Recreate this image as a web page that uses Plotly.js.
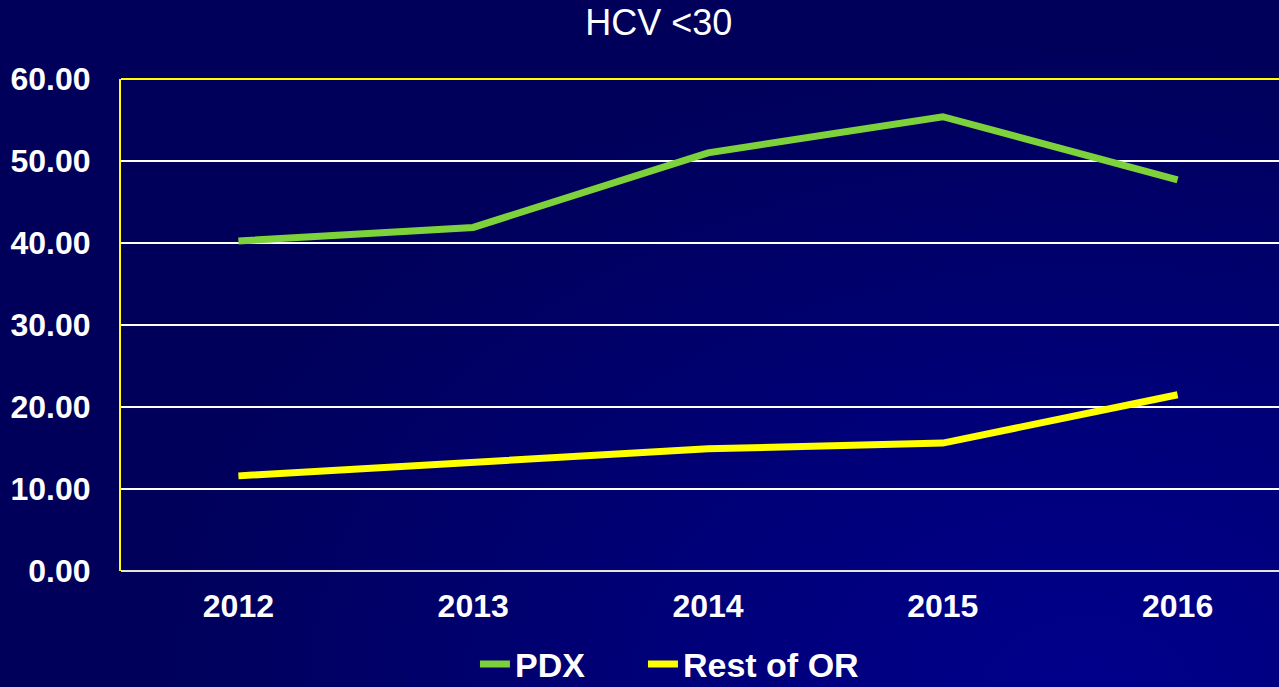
<!DOCTYPE html>
<html>
<head>
<meta charset="utf-8">
<script src="https://cdn.plot.ly/plotly-3.0.1.min.js"></script>
<style>
  html, body { margin: 0; padding: 0; width: 1279px; height: 687px; overflow: hidden; }
  body { background: radial-gradient(ellipse 75% 95% at 85% 100%, #00008c 0%, #000078 45%, #00005a 100%); }
  #chart { width: 1300px; height: 687px; }
</style>
</head>
<body>
<div id="chart"></div>
<script>
const years = ["2012", "2013", "2014", "2015", "2016"];
const pdx = [40.25, 41.9, 51.0, 55.4, 47.7];
const restOfOR = [11.6, 13.3, 14.9, 15.6, 21.5];
const yTicks = [0, 10, 20, 30, 40, 50, 60];
const yTickLabels = ["0.00", "10.00", "20.00", "30.00", "40.00", "50.00", "60.00"];

const FONT = "Liberation Sans, Arial, sans-serif";

const traces = [
  { x: years, y: pdx, name: "PDX", type: "scatter", mode: "lines", legend: "legend",
    line: { color: "#7dd13a", width: 7 } },
  { x: years, y: restOfOR, name: "Rest of OR", type: "scatter", mode: "lines", legend: "legend2",
    line: { color: "#ffff00", width: 7 } }
];

const legendFont = { family: FONT, size: 34, color: "#ffffff", weight: "bold" };

const layout = {
  width: 1300, height: 687,
  margin: { l: 121, r: 5, t: 79, b: 116, autoexpand: false },
  paper_bgcolor: "rgba(0,0,0,0)",
  plot_bgcolor: "rgba(0,0,0,0)",
  title: { text: "HCV <30", font: { family: FONT, size: 36, color: "#ffffff" },
           x: 0.458, xanchor: "center", xref: "paper", y: 0.968, yanchor: "middle", yref: "container" },
  showlegend: true,
  legend: { orientation: "h", x: 0.3015, xanchor: "left", y: -0.19, yanchor: "middle",
            font: legendFont, bgcolor: "rgba(0,0,0,0)", itemwidth: 30 },
  legend2: { orientation: "h", x: 0.4446, xanchor: "left", y: -0.19, yanchor: "middle",
            font: legendFont, bgcolor: "rgba(0,0,0,0)", itemwidth: 30 },
  xaxis: {
    type: "category", range: [-0.5, 4.5], fixedrange: true,
    showgrid: false, showline: false, zeroline: false,
    ticks: "", ticklabelstandoff: 13,
    tickfont: { family: FONT, size: 32, color: "#ffffff", weight: "bold" }
  },
  yaxis: {
    range: [0, 60], tickvals: yTicks, ticktext: yTickLabels, fixedrange: true,
    showgrid: true, gridcolor: "#ffffff", gridwidth: 2,
    zeroline: true, zerolinecolor: "#e4e4d0", zerolinewidth: 2,
    showline: true, linecolor: "#ffff00", linewidth: 2, mirror: true,
    ticks: "", ticklabelstandoff: 22,
    tickfont: { family: FONT, size: 32, color: "#ffffff", weight: "bold" }
  },
  shapes: [
    { type: "line", xref: "paper", yref: "paper", x0: 0, x1: 1, y0: 1, y1: 1,
      line: { color: "#ffff00", width: 2 } }
  ]
};

Plotly.newPlot("chart", traces, layout, { displayModeBar: false, staticPlot: true });
</script>
</body>
</html>
